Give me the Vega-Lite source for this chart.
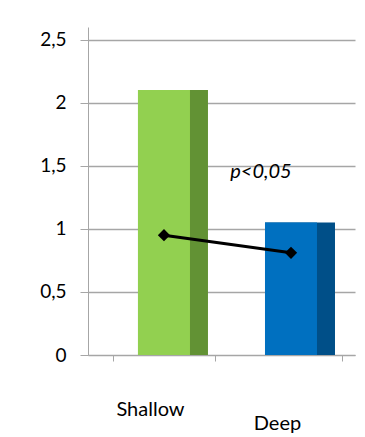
{
  "$schema": "https://vega.github.io/schema/vega-lite/v6.json",
  "autosize": {"type": "none"},
  "padding": {"left": 88, "top": 27, "right": 10, "bottom": 82},
  "width": 267,
  "height": 328,
  "background": "white",
  "config": {"view": {"stroke": null}, "font": "Lato"},
  "data": {"values": [
    {"group": "Shallow", "mean": 2.1, "paired": 0.95, "front": "#92d050", "side": "#629234"},
    {"group": "Deep", "mean": 1.05, "paired": 0.81, "front": "#0070c0", "side": "#004f88"}
  ]},
  "encoding": {
    "x": {"field": "group", "type": "nominal", "sort": ["Shallow", "Deep"],
      "scale": {"paddingInner": 0.2, "paddingOuter": 0.151, "align": 0.656},
      "axis": {"title": null, "labelAngle": 0, "labelFontSize": 20, "labelColor": "#000",
        "labelFont": "Lato",
        "labelPadding": {"condition": {"test": "datum.value === 'Deep'", "value": 52}, "value": 38},
        "labelOffset": -14,
        "domainColor": "#a6a6a6", "tickColor": "#a6a6a6", "tickBand": "extent", "tickSize": 6,
        "grid": false}}
  },
  "layer": [
    {
      "mark": {"type": "bar", "size": 70, "xOffset": 9},
      "encoding": {
        "y": {"field": "mean", "type": "quantitative",
          "scale": {"domain": [0, 2.5]},
          "axis": {"title": null, "values": [0, 0.5, 1, 1.5, 2, 2.5],
            "labelExpr": "replace(format(datum.value, '.1~f'), '.', ',')",
            "labelFontSize": 19, "labelColor": "#000", "labelPadding": 14,
            "domainColor": "#a6a6a6", "tickColor": "#a6a6a6", "tickSize": 8,
            "gridColor": "#a6a6a6", "gridWidth": 1.5}},
        "color": {"field": "side", "type": "nominal", "scale": null}
      }
    },
    {
      "mark": {"type": "bar", "size": 52},
      "encoding": {
        "y": {"field": "mean", "type": "quantitative"},
        "color": {"field": "front", "type": "nominal", "scale": null}
      }
    },
    {
      "mark": {"type": "line", "color": "#000", "strokeWidth": 3},
      "encoding": {"y": {"field": "paired", "type": "quantitative"}}
    },
    {
      "mark": {"type": "point", "shape": "diamond", "filled": true, "color": "#000", "size": 150, "opacity": 1},
      "encoding": {"y": {"field": "paired", "type": "quantitative"}}
    },
    {
      "data": {"values": [{"group": "Deep", "y": 1.45, "label": "p<0,05"}]},
      "mark": {"type": "text", "fontSize": 20, "fontStyle": "italic", "color": "#000", "dx": -30, "font": "Lato"},
      "encoding": {
        "y": {"field": "y", "type": "quantitative"},
        "text": {"field": "label"}
      }
    }
  ]
}
